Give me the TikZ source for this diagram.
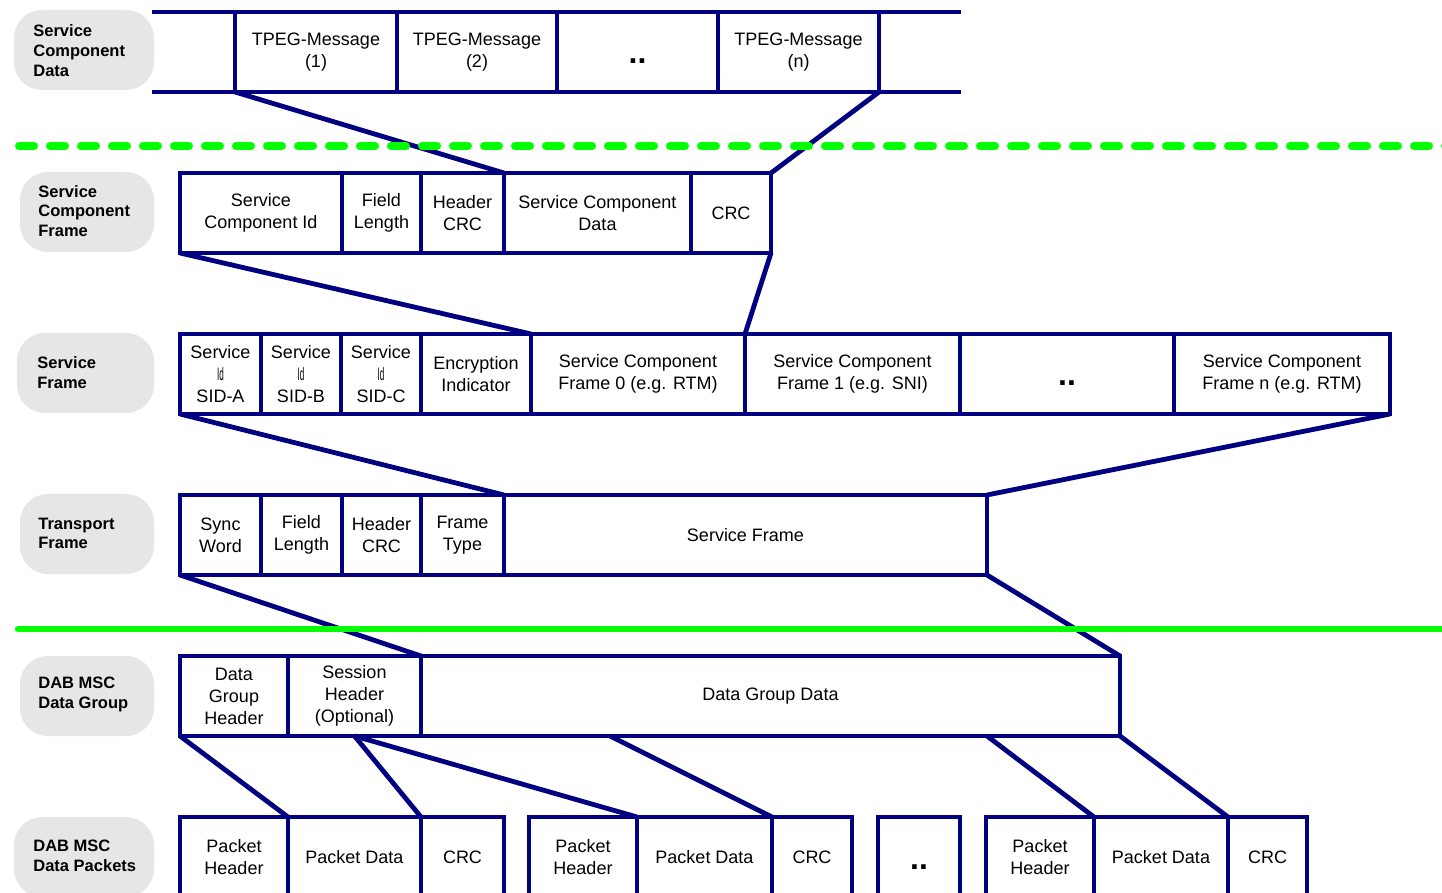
\documentclass[tikz,border=0pt]{standalone}
\usepackage{fontspec}
\setmainfont{Liberation Sans}
\usepackage{graphicx}
\definecolor{navy}{RGB}{0,0,128}
\definecolor{pillgray}{RGB}{230,230,230}
\definecolor{lgreen}{RGB}{0,255,0}
\tikzset{
  cell/.style={draw=navy, line width=1.75pt, rectangle, minimum height=40pt, inner sep=0pt, outer sep=0pt,
    anchor=north west, align=center, font=\fontsize{9}{11}\selectfont, text=black},
  pill/.style={fill=pillgray, rounded corners=14pt, inner sep=0pt, outer sep=0pt, anchor=north west, minimum height=40pt},
  plabel/.style={anchor=west, align=left, font=\fontsize{8.25}{9.9}\selectfont\bfseries, inner sep=0pt, text=black},
  conn/.style={draw=navy, line width=2.4pt, line join=round},
  rail/.style={draw=navy, line width=1.9pt},
  sepdash/.style={draw=lgreen, line width=4pt, line cap=round, dash pattern=on 7.5pt off 8pt},
  sepsolid/.style={draw=lgreen, line width=3.25pt, line cap=round}
}
\newcommand{\cell}[5]{\node[cell, minimum width={(#3-#2)*0.5pt}] (#1) at (#2,#4) {#5};}
\newcommand{\dotsmark}{{\fontsize{16}{16}\selectfont\bfseries\rule{0pt}{12pt}..}}
\newcommand{\smallid}{\scalebox{0.45}[1]{Id}}
\begin{document}
\begin{tikzpicture}[x=0.5pt, y=-0.5pt]
\clip (0,0) rectangle (1442,893);
\fill[white] (0,0) rectangle (1442,893);

% label pills
\node[pill, minimum width=70pt] (p1) at (14,10) {};
\node[plabel] (t1) at (33,50.5) {Service\\Component\\Data};
\node[pill, minimum width=67pt] (p2) at (20,172) {};
\node[plabel] (t2) at (38,211) {Service\\Component\\Frame};
\node[pill, minimum width=68.5pt] (p3) at (17,333) {};
\node[plabel] (t3) at (37,372.5) {Service\\Frame};
\node[pill, minimum width=67pt] (p4) at (20,494) {};
\node[plabel] (t4) at (38,533.5) {Transport\\Frame};
\node[pill, minimum width=67pt] (p5) at (20,656) {};
\node[plabel] (t5) at (38,694.5) {DAB MSC\\Data Group};
\node[pill, minimum width=70pt] (p6) at (14,817) {};
\node[plabel] (t6) at (33,856) {DAB MSC\\Data Packets};

% Row 1: Service Component Data
\coordinate (a1) at (152,12);
\coordinate (a2) at (961,12);
\coordinate (b1) at (152,92);
\coordinate (b2) at (961,92);
\cell{m1}{235}{397}{12}{TPEG-Message\\(1)}
\cell{m2}{397}{557}{12}{TPEG-Message\\(2)}
\cell{md}{557}{718}{12}{\dotsmark}
\cell{mn}{718}{879}{12}{TPEG-Message\\(n)}
\draw[rail] (a1) -- (m1.north west);
\draw[rail] (b1) -- (m1.south west);
\draw[rail] (mn.north east) -- (a2);
\draw[rail] (mn.south east) -- (b2);

% Row 2: Service Component Frame
\cell{sci}{180}{342}{173}{Service\\Component Id}
\cell{fl}{342}{421}{173}{Field\\Length}
\cell{hcrc}{421}{504}{173}{Header\\CRC}
\cell{scd}{504}{691}{173}{Service Component\\Data}
\cell{crc}{691}{771}{173}{CRC}

% Row 3: Service Frame
\cell{sa}{180}{261}{334}{Service\\\smallid\\SID-A}
\cell{sb}{261}{341}{334}{Service\\\smallid\\SID-B}
\cell{sc}{341}{421}{334}{Service\\\smallid\\SID-C}
\cell{ei}{421}{531}{334}{Encryption\\Indicator}
\cell{f0}{531}{745}{334}{Service Component\\Frame 0 (e.g. RTM)}
\cell{f1}{745}{960}{334}{Service Component\\Frame 1 (e.g. SNI)}
\cell{fd}{960}{1174}{334}{\dotsmark}
\cell{fn}{1174}{1390}{334}{Service Component\\Frame n (e.g. RTM)}

% Row 4: Transport Frame
\cell{sw}{180}{261}{495}{Sync\\Word}
\cell{fl2}{261}{342}{495}{Field\\Length}
\cell{hc2}{342}{421}{495}{Header\\CRC}
\cell{ft}{421}{504}{495}{Frame\\Type}
\cell{sf}{504}{987}{495}{Service Frame}

% Row 5: DAB MSC Data Group
\cell{dgh}{180}{288}{656}{Data\\Group\\Header}
\cell{sh}{288}{421}{656}{Session\\Header\\(Optional)}
\cell{dgd}{421}{1120}{656}{Data Group Data}
\coordinate (dg1) at (610,736);
\coordinate (dg2) at (987,736);

% Row 6: DAB MSC Data Packets
\cell{ph1}{180}{288}{817}{Packet\\Header}
\cell{pd1}{288}{421}{817}{Packet Data}
\cell{c1}{421}{504}{817}{CRC}
\cell{ph2}{529}{637}{817}{Packet\\Header}
\cell{pd2}{637}{772}{817}{Packet Data}
\cell{c2}{772}{852}{817}{CRC}
\cell{dd}{878}{960}{817}{\dotsmark}
\cell{ph4}{986}{1094}{817}{Packet\\Header}
\cell{pd4}{1094}{1228}{817}{Packet Data}
\cell{c4}{1228}{1307}{817}{CRC}

% connectors
\draw[conn] (m1.south west) -- (scd.north west);
\draw[conn] (mn.south east) -- (crc.north east);
\draw[conn] (sci.south west) -- (f0.north west);
\draw[conn] (crc.south east) -- (f0.north east);
\draw[conn] (sa.south west) -- (sf.north west);
\draw[conn] (fn.south east) -- (sf.north east);
\draw[conn] (sw.south west) -- (dgd.north west);
\draw[conn] (sf.south east) -- (dgd.north east);
\draw[conn] (dgh.south west) -- (ph1.north east);
\draw[conn] (sh.south) -- (pd1.north east);
\draw[conn] (sh.south) -- (ph2.north east);
\draw[conn] (dg1) -- (pd2.north east);
\draw[conn] (dg2) -- (ph4.north east);
\draw[conn] (dgd.south east) -- (pd4.north east);

% green separators
\coordinate (g1) at (19,146);
\coordinate (g2) at (1470,146);
\coordinate (h1) at (18,629);
\coordinate (h2) at (1446,629);
\draw[sepdash] (g1) -- (g2);
\draw[sepsolid] (h1) -- (h2);
\end{tikzpicture}
\end{document}
